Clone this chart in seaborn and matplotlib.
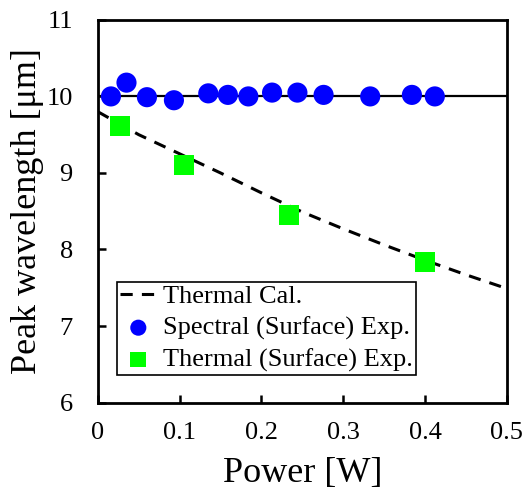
import numpy as np
import pandas as pd
import matplotlib
matplotlib.use("Agg")
import matplotlib.pyplot as plt
import seaborn as sns

# thermal calculation curve
cal_power = [0.0, 0.05, 0.10, 0.15, 0.20, 0.25, 0.30, 0.35, 0.40, 0.45, 0.50]
cal_wl = [9.80, 9.50, 9.25, 9.00, 8.74, 8.49, 8.27, 8.06, 7.86, 7.67, 7.49]

# spectral (surface) experiment
spec_power = [0.016, 0.035, 0.060, 0.093, 0.135, 0.159, 0.184, 0.213, 0.244, 0.276, 0.333, 0.384, 0.412]
spec_wl = [10.00, 10.18, 9.99, 9.95, 10.04, 10.02, 10.00, 10.05, 10.05, 10.02, 10.00, 10.02, 10.00]

# thermal (surface) experiment
therm_power = [0.027, 0.105, 0.234, 0.400]
therm_wl = [9.61, 9.10, 8.45, 7.84]

# spectral reference line
ref_power = [0.0, 0.5]
ref_wl = [10.0, 10.0]

sns.set_style("ticks", {"axes.edgecolor": "black", "text.color": "black",
                        "axes.labelcolor": "black", "xtick.color": "black",
                        "ytick.color": "black"})
plt.rcParams['font.family'] = ['Liberation Serif', 'DejaVu Serif']

fig = plt.figure(figsize=(5.29, 4.97), dpi=100)
ax = fig.add_axes([0.185, 0.19, 0.773, 0.77])

sns.lineplot(x=ref_power, y=ref_wl, color="black", lw=1.6, ax=ax, zorder=1)
sns.lineplot(x=cal_power, y=cal_wl, color="black", lw=2.2, ax=ax, zorder=2,
             linestyle=(0, (4, 3)), label="Thermal Cal.")
sns.scatterplot(x=spec_power, y=spec_wl, color="#0000FF", marker="o", s=210,
                edgecolor="none", ax=ax, zorder=3, label="Spectral (Surface) Exp.")
sns.scatterplot(x=therm_power, y=therm_wl, color="#00FF00", marker="s", s=200,
                edgecolor="none", ax=ax, zorder=3, label="Thermal (Surface) Exp.")

ax.set_xlim(0, 0.5)
ax.set_ylim(6, 11)
ax.set_xticks([0, 0.1, 0.2, 0.3, 0.4, 0.5])
ax.set_xticklabels(["0", "0.1", "0.2", "0.3", "0.4", "0.5"])
ax.set_yticks([6, 7, 8, 9, 10, 11])
ax.tick_params(direction="in", length=6, width=1.8, labelsize=19,
               colors="black", labelcolor="black")
ax.tick_params(axis="x", pad=14)
ax.tick_params(axis="y", pad=18)
for s in ax.spines.values():
    s.set_linewidth(2)
    s.set_color("black")
    s.set_visible(True)

ax.set_xlabel("Power [W]", fontsize=26, labelpad=9, color="black")
ax.set_ylabel("Peak wavelength [μm]", fontsize=26, labelpad=2, color="black")

leg = ax.legend(loc="lower left", bbox_to_anchor=(0.046, 0.072), fontsize=19,
                frameon=True, fancybox=False, edgecolor="black", framealpha=1,
                markerscale=0.8, handlelength=1.4, handletextpad=0.25,
                borderpad=0.12, labelspacing=0.3, borderaxespad=0)
leg.get_frame().set_linewidth(1.2)
for t in leg.get_texts():
    t.set_color("black")

plt.savefig("out.png", dpi=100)
